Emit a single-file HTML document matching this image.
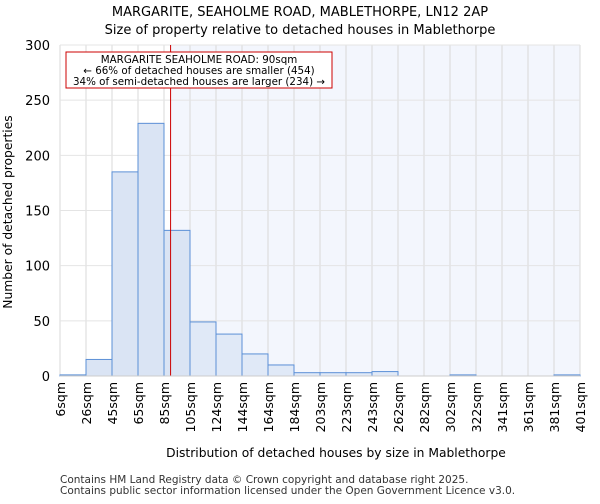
<!DOCTYPE html>
<html><head><meta charset="utf-8"><style>
body{margin:0;background:#fff;font-family:"DejaVu Sans","Liberation Sans",sans-serif}
</style></head><body>
<svg width="600" height="500" xmlns="http://www.w3.org/2000/svg" font-family="DejaVu Sans, Liberation Sans, sans-serif">
<text x="300" y="16" text-anchor="middle" font-size="13">MARGARITE, SEAHOLME ROAD, MABLETHORPE, LN12 2AP</text>
<text x="300" y="34" text-anchor="middle" font-size="13">Size of property relative to detached houses in Mablethorpe</text>
<g id="plot"></g>
<text x="336" y="457" text-anchor="middle" font-size="12.3">Distribution of detached houses by size in Mablethorpe</text>
<text transform="translate(12,212) rotate(-90)" text-anchor="middle" font-size="12.3">Number of detached properties</text>
<text x="60" y="483" font-size="10.5" fill="#333">Contains HM Land Registry data © Crown copyright and database right 2025.</text>
<text x="60" y="494" font-size="10.5" fill="#333">Contains public sector information licensed under the Open Government Licence v3.0.</text>
</svg>
<script>
const tickLabels=["6sqm","26sqm","45sqm","65sqm","85sqm","105sqm","124sqm","144sqm","164sqm","184sqm","203sqm","223sqm","243sqm","262sqm","282sqm","302sqm","322sqm","341sqm","361sqm","381sqm","401sqm"];
const counts=[1,15,185,229,132,49,38,20,10,3,3,3,4,0,0,1,0,0,0,1];
const yTicks=[0,50,100,150,200,250,300];
const marker=90;
const X0=60,X1=580,Y0=376,Y1=45,ymax=300;
const ns="http://www.w3.org/2000/svg";
const g=document.getElementById('plot');
const bw=(X1-X0)/counts.length;
const xs=i=>X0+i*bw;
const ys=v=>Y0-(v/ymax)*(Y0-Y1);
const xv=v=>X0+(v-6)/((401-6)/counts.length)*bw;
function el(t,a){const e=document.createElementNS(ns,t);for(const k in a)e.setAttribute(k,a[k]);g.appendChild(e);return e;}
const mx=xv(marker);
const shade=el('rect',{x:mx,y:Y1,width:X1-mx,height:Y0-Y1,fill:'#f3f6fd'});


for(let i=0;i<=counts.length;i++){const l=el('line',{x1:xs(i),x2:xs(i),y1:Y1,y2:Y0,stroke:'#d8d8d8','stroke-width':1});

}
yTicks.forEach(v=>{const l=el('line',{x1:X0,x2:X1,y1:ys(v),y2:ys(v),stroke:'#e4e4e4','stroke-width':1});


const t=el('text',{x:X0-10,y:ys(v)+5,'text-anchor':'end','font-size':13});t.textContent=v;

});
counts.forEach((c,i)=>{const r=el('rect',{x:xs(i),y:ys(c),width:bw,height:Y0-ys(c),fill:'#dae4f4','fill-opacity':xs(i)<mx?1:0.75,stroke:'#5b8fd6','stroke-width':1});

});
tickLabels.forEach((s,i)=>{const t=el('text',{transform:`translate(${xs(i)+5},382) rotate(-90)`,'text-anchor':'end','font-size':12.5});t.textContent=s;

});
const ml=el('line',{x1:mx,x2:mx,y1:Y1,y2:Y0,stroke:'#c00','stroke-width':1});


const box=el('rect',{x:66,y:52,width:266,height:36,fill:'#fff',stroke:'#c00','stroke-width':1});


["MARGARITE SEAHOLME ROAD: 90sqm","← 66% of detached houses are smaller (454)","34% of semi-detached houses are larger (234) →"].forEach((s,i)=>{const t=el('text',{x:199,y:63+i*11,'text-anchor':'middle','font-size':10.3});t.textContent=s;

});
const ax=el('line',{x1:X0,x2:X1,y1:Y0,y2:Y0,stroke:'#ccc'});


</script>
</body></html>
